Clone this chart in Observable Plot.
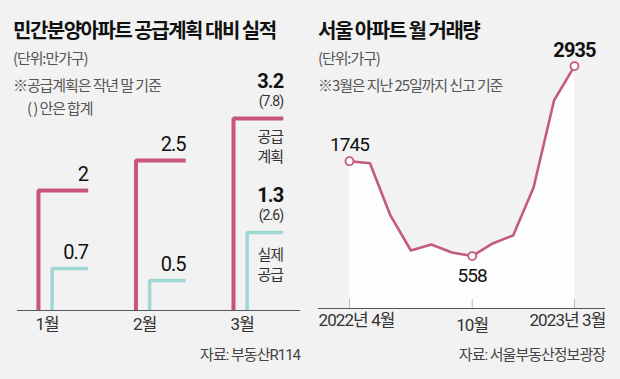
<!DOCTYPE html>
<html>
<head>
<meta charset="utf-8">
<script src="https://cdn.jsdelivr.net/npm/d3@7"></script>
<script src="https://cdn.jsdelivr.net/npm/@observablehq/plot@0.6"></script>
<style>
  body { margin: 0; background: #f2f2f2; }
  #root { position: relative; width: 620px; height: 379px; overflow: hidden;
          font-family: Roboto, 'Noto Sans CJK KR', sans-serif; }
  .abs { position: absolute; white-space: nowrap; }
  .title { font-family: 'Noto Sans CJK KR', sans-serif; font-weight: 700; font-size: 20px;
           line-height: 20px; color: #111; letter-spacing: -1.5px; }
  .sub { font-family: 'Noto Sans CJK KR', sans-serif; font-size: 15px; line-height: 15px;
         color: #555; letter-spacing: -1.1px; }
  .cap { font-size: 15px; line-height: 16px; color: #444; letter-spacing: -1px; }
  svg text { letter-spacing: -0.9px; }
</style>
</head>
<body>
<div id="root">
  <div id="left" class="abs" style="left:0;top:30px"></div>
  <div id="right" class="abs" style="left:310px;top:30px"></div>
  <div class="abs title" style="left:13px;top:20px">민간분양아파트 공급계획 대비 실적</div>
  <div class="abs sub" style="left:13px;top:50px">(단위:만가구)</div>
  <div class="abs sub" style="left:13px;top:77px">※공급계획은 작년 말 기준</div>
  <div class="abs sub" style="left:27px;top:100px">( ) 안은 합계</div>
  <div class="abs title" style="left:318px;top:20px">서울 아파트 월 거래량</div>
  <div class="abs sub" style="left:318px;top:50px">(단위:가구)</div>
  <div class="abs sub" style="left:318px;top:77px">※3월은 지난 25일까지 신고 기준</div>
  <div class="abs cap" style="right:320px;top:347px">자료: 부동산R114</div>
  <div class="abs cap" style="right:15px;top:347px">자료: 서울부동산정보광장</div>
</div>
<script>
// ---- Left chart data ----
const months = ["1월", "2월", "3월"];
const planValues = [2, 2.5, 3.2];
const actualValues = [0.7, 0.5, 1.3];
const planTotals = [null, null, 7.8];
const actualTotals = [null, null, 2.6];
const seriesNames = {plan: "공급\n계획", actual: "실제\n공급"};

// ---- Right chart data ----
const periodLabels = ["2022년 4월", "5월", "6월", "7월", "8월", "9월", "10월", "11월", "12월", "2023년 1월", "2월", "3월"];
const volumes = [1745, 1720, 1066, 628, 703, 603, 558, 716, 816, 1416, 2505, 2935];
const axisTickIndex = [0, 6, 11];
const axisTickLabels = ["2022년 4월", "10월", "2023년 3월"];
const labeledIndex = [0, 6, 11];

const PINK = "#c8557b";
const TEAL = "#9fd7d5";
const LINE = "#c45a7f";

// Build bracket shapes for left chart
const series = [
  {kind: "plan", values: planValues, totals: planTotals, offset: 0},
  {kind: "actual", values: actualValues, totals: actualTotals, offset: 0.14}
];
const shapes = [];
const labels = [];
series.forEach(s => {
  months.forEach((m, i) => {
    const v = s.values[i];
    const key = s.kind + i;
    shapes.push({key, kind: s.kind, x: i + s.offset, y: 0});
    shapes.push({key, kind: s.kind, x: i + s.offset, y: v});
    shapes.push({key, kind: s.kind, x: i + 0.51, y: v});
    labels.push({kind: s.kind, x: i + 0.51, y: v, text: String(v), total: s.totals[i]});
  });
});
const withTotals = labels.filter(d => d.total != null);

const left = Plot.plot({
  width: 305, height: 310,
  marginLeft: 17, marginRight: 5, marginTop: 0, marginBottom: 30,
  style: {background: "transparent", fontFamily: "Roboto, 'Noto Sans CJK KR', sans-serif"},
  x: {type: "linear", domain: [-0.215, 2.687], axis: null},
  y: {domain: [0, 280 / 60], axis: null},
  marks: [
    Plot.line(shapes.filter(d => d.kind === "plan"), {x: "x", y: "y", z: "key", stroke: PINK, strokeWidth: 4, strokeLinejoin: "miter", strokeLinecap: "butt"}),
    Plot.line(shapes.filter(d => d.kind === "actual"), {x: "x", y: "y", z: "key", stroke: TEAL, strokeWidth: 3.5, strokeLinejoin: "miter", strokeLinecap: "butt"}),
    Plot.ruleY([0], {stroke: "#555", strokeWidth: 1}),
    Plot.text(months, {x: (d, i) => i, y: 0, text: d => d, textAnchor: "start", dx: -3, dy: 14, fontSize: 17, fill: "#333"}),
    // value labels without totals
    Plot.text(labels.filter(d => d.total == null), {x: "x", y: "y", text: "text", textAnchor: "end", dy: -16, fontSize: 20,
      fontWeight: d => d.kind === "plan" ? 700 : 500, fill: "#111"}),
    // value labels with totals
    Plot.text(withTotals, {x: "x", y: "y", text: "text", textAnchor: "end", dy: -37, fontSize: 20, fontWeight: 700, fill: "#111"}),
    Plot.text(withTotals, {x: "x", y: "y", text: d => `(${d.total})`, textAnchor: "end", dy: -17, fontSize: 14, fill: "#333"}),
    // series names next to March
    Plot.text(withTotals.filter(d => d.kind === "plan"), {x: "x", y: "y", text: d => seriesNames[d.kind],
      textAnchor: "end", lineAnchor: "top", dy: 9, lineHeight: 1.35, fontSize: 15, fill: "#333"}),
    Plot.text(withTotals.filter(d => d.kind === "actual"), {x: "x", y: "y", text: d => seriesNames[d.kind],
      textAnchor: "end", lineAnchor: "top", dy: 13, lineHeight: 1.35, fontSize: 15, fill: "#333"})
  ]
});
document.getElementById("left").appendChild(left);

// ---- Right chart ----
const trend = volumes.map((v, i) => ({i, label: periodLabels[i], v}));
const yMin = -98;
const right = Plot.plot({
  width: 310, height: 310,
  marginLeft: 8, marginRight: 15, marginTop: 0, marginBottom: 32,
  style: {background: "transparent", fontFamily: "Roboto, 'Noto Sans CJK KR', sans-serif"},
  x: {type: "linear", domain: [-1.516, 12.516], axis: null},
  y: {domain: [yMin, 3380], axis: null},
  marks: [
    Plot.areaY(trend, {x: "i", y1: yMin, y2: "v", fill: "#fdfdfd"}),
    Plot.ruleX(axisTickIndex, {x: d => d, stroke: "#bbb", insetTop: 269}),
    Plot.ruleY([yMin], {stroke: "#555", strokeWidth: 1}),
    Plot.line(trend, {x: "i", y: "v", stroke: LINE, strokeWidth: 2.6}),
    Plot.dot(trend.filter(d => labeledIndex.includes(d.i)), {x: "i", y: "v", r: 4, fill: "#fff", stroke: LINE, strokeWidth: 1.8}),
    Plot.text(trend.filter(d => d.i === 0), {x: "i", y: "v", text: d => String(d.v), dy: -16, fontSize: 19, fill: "#111"}),
    Plot.text(trend.filter(d => d.i === 6), {x: "i", y: "v", text: d => String(d.v), dy: 20, fontSize: 19, fill: "#111"}),
    Plot.text(trend.filter(d => d.i === 11), {x: "i", y: "v", text: d => String(d.v), dy: -15, fontSize: 20, fontWeight: 700, fill: "#111"}),
    Plot.text([axisTickLabels[0]], {frameAnchor: "bottom-left", textAnchor: "start", dy: 17, fontSize: 17, fill: "#333"}),
    Plot.text([axisTickLabels[1]], {x: axisTickIndex[1], y: yMin, text: d => d, dy: 17, fontSize: 17, fill: "#333"}),
    Plot.text([axisTickLabels[2]], {frameAnchor: "bottom-right", textAnchor: "end", dy: 17, fontSize: 17, fill: "#333"})
  ]
});
document.getElementById("right").appendChild(right);
</script>
</body>
</html>
